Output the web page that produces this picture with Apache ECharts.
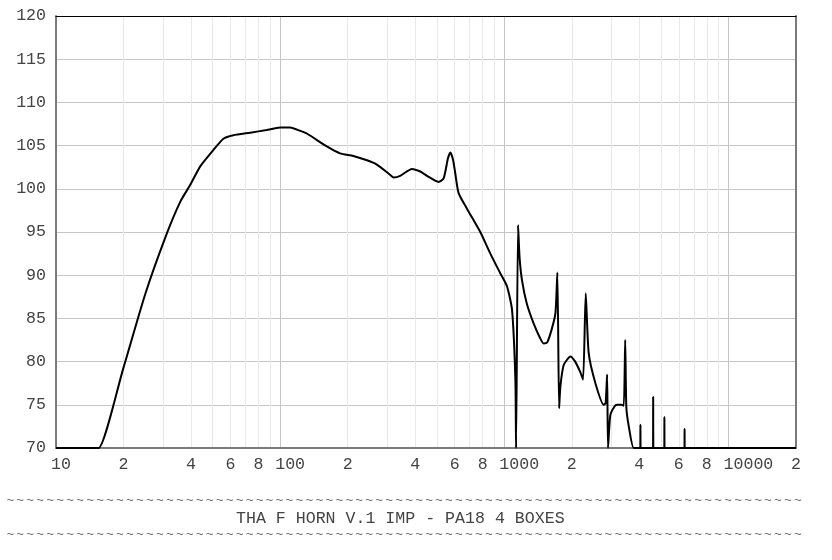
<!DOCTYPE html>
<html>
<head>
<meta charset="utf-8">
<script src="https://cdn.jsdelivr.net/npm/echarts@6/dist/echarts.min.js"></script>
<style>
html,body{margin:0;padding:0;background:#fff;}
#chart{width:832px;height:560px;}
</style>
</head>
<body>
<div id="chart"></div>
<script>
// Frequency (Hz) and level (dB)
const freqs = [10, 15.3, 15.5, 20, 25, 31.2, 36, 39.6, 44, 50.4, 55.8, 61.8, 73.5, 87, 100, 111, 123, 131.5, 161.5, 185, 212, 244, 270, 310, 321, 343, 387, 422, 452, 509, 536, 560, 574, 590, 604, 625, 681, 781, 866, 960, 1028, 1082, 1120, 1128, 1151, 1169, 1199, 1260, 1352, 1445, 1497, 1552, 1625, 1690, 1724, 1755, 1778, 1840, 1972, 2070, 2180, 2245, 2307, 2378, 2548, 2775, 2830, 2874, 2900, 2970, 3100, 3183, 3330, 3410, 3460, 3500, 3590, 3777, 4040, 4047, 4054, 4605, 4612, 4619, 5170, 5176, 5183, 6360, 6368, 6376, 20000];
const levels = [70, 70, 70, 79.3, 87.8, 94.8, 98.6, 100.4, 102.6, 104.5, 105.8, 106.2, 106.5, 106.8, 107.1, 107.1, 106.7, 106.4, 104.9, 104.1, 103.8, 103.3, 102.8, 101.6, 101.3, 101.5, 102.3, 102.0, 101.5, 100.8, 101.2, 103.5, 104.2, 103.4, 101.8, 99.5, 97.7, 95.0, 92.5, 90.2, 88.7, 86.0, 77.9, 70, 95.8, 92.1, 89.4, 86.7, 84.4, 82.7, 82.1, 82.2, 83.7, 85.6, 90.3, 74.6, 77.1, 79.6, 80.6, 80.0, 78.8, 77.9, 87.9, 81.0, 77.5, 75.0, 75.2, 78.5, 70, 73.8, 74.8, 75.0, 75.0, 74.9, 82.5, 74.8, 72.5, 70, 70, 72.7, 70, 70, 75.9, 70, 70, 73.6, 70, 70, 72.2, 70, 70];

const gridFreqs = [10,20,30,40,50,60,70,80,90,100,200,300,400,500,600,700,800,900,1000,2000,3000,4000,5000,6000,7000,8000,9000,10000,20000];
const labelFreqs = [10,20,40,60,80,100,200,400,600,800,1000,2000,4000,6000,8000,10000,20000];
const yTicks = {min: 70, max: 120, step: 5};
const titleText = 'THA F HORN V.1 IMP - PA18 4 BOXES';

const FONT = 'Liberation Mono';
const FS = 16.6;
const TXT = '#444';
const gridColors = ['#c6c6c6','#e8e8e8','#e8e8e8','#e8e8e8','#e8e8e8','#e8e8e8','#e8e8e8','#e8e8e8','#e8e8e8'];

const seriesData = freqs.map((f, i) => [f, levels[i]]);

function xLabel(v) {
  const s = String(Math.round(v));
  let lbl = /^10+$/.test(s) ? s : s.charAt(0);
  return ' '.repeat(lbl.length - 1) + lbl;
}

const chart = echarts.init(document.getElementById('chart'), null, {renderer: 'canvas'});

// decorative tilde rules above and below the title (80 characters each, 10px pitch)
const tildeEls = [];
[500.5, 535].forEach(function (yy) {
  for (let i = 0; i < 80; i++) {
    tildeEls.push({type: 'text', x: 10.3 + i * 9.97, y: yy, silent: true,
      style: {text: '~', font: '13px "' + FONT + '"', fill: '#666', align: 'center', verticalAlign: 'middle'}});
  }
});

chart.setOption({
  animation: false,
  backgroundColor: '#fff',
  grid: {left: 56, right: 36, top: 16, bottom: 112, containLabel: false},
  xAxis: [{
    type: 'log', logBase: 10, min: 10, max: 20000, position: 'bottom',
    axisLine: {show: true, onZero: false, lineStyle: {color: '#7a7a7a', width: 2}},
    axisTick: {show: false, customValues: gridFreqs},
    axisLabel: {customValues: labelFreqs, formatter: xLabel, fontFamily: FONT, fontSize: FS, color: TXT, margin: 8},
    splitLine: {show: true, lineStyle: {color: gridColors, width: 1}}
  }, {
    type: 'log', logBase: 10, min: 10, max: 20000, position: 'top',
    axisLine: {show: true, lineStyle: {color: '#000', width: 1}},
    axisTick: {show: false}, axisLabel: {show: false}, splitLine: {show: false}
  }],
  yAxis: [{
    type: 'value', min: yTicks.min, max: yTicks.max, interval: yTicks.step, position: 'left',
    axisLine: {show: true, lineStyle: {color: '#7a7a7a', width: 2}},
    axisTick: {show: false},
    axisLabel: {fontFamily: FONT, fontSize: FS, color: TXT, margin: 10},
    splitLine: {show: true, lineStyle: {color: '#c6c6c6', width: 1}}
  }, {
    type: 'value', min: yTicks.min, max: yTicks.max, interval: yTicks.step, position: 'right',
    axisLine: {show: true, lineStyle: {color: '#7a7a7a', width: 2}},
    axisTick: {show: false}, axisLabel: {show: false}, splitLine: {show: false}
  }],
  series: [{
    type: 'line', data: seriesData, xAxisIndex: 0, yAxisIndex: 0,
    showSymbol: false, symbol: 'none', smooth: 0.2,
    lineStyle: {color: '#000', width: 2}, clip: false, z: 5
  }],
  graphic: tildeEls.concat([
    {type: 'text', left: 236, top: 510, style: {text: titleText, font: FS + 'px "' + FONT + '"', fill: TXT}}
  ])
});
</script>
</body>
</html>
